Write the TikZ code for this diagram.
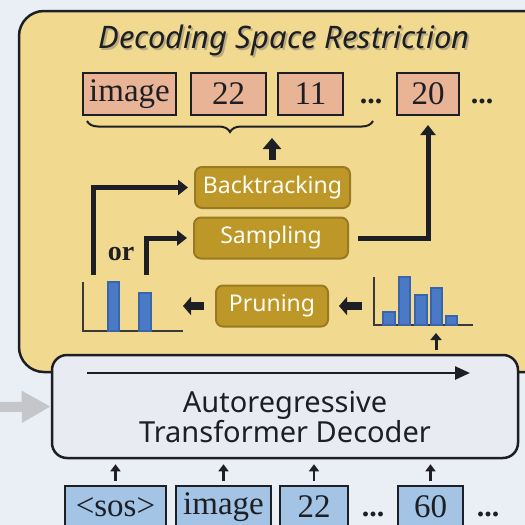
\documentclass[tikz,border=0pt]{standalone}
\usepackage{fontspec}
\setmainfont{Liberation Serif}
\newfontfamily\labelsans{Noto Sans}
\usetikzlibrary{arrows.meta,decorations.pathreplacing}

\definecolor{bgcol}{HTML}{EAEEF5}
\definecolor{panelcol}{HTML}{F1DA90}
\definecolor{goldcol}{HTML}{BD9727}
\definecolor{golddraw}{HTML}{977A22}
\definecolor{salmon}{HTML}{E9B496}
\definecolor{tokblue}{HTML}{A3C4E5}
\definecolor{deccol}{HTML}{E8EBF1}
\definecolor{barcol}{HTML}{4A79C6}
\definecolor{bardraw}{HTML}{3A65AC}
\definecolor{inkcol}{HTML}{1E1F24}
\definecolor{axiscol}{HTML}{3A3A3C}
\definecolor{greyarrow}{HTML}{C4C6CA}

\tikzset{
  tok/.style={draw=inkcol, line width=2pt, minimum height=42pt, inner sep=0pt,
    text=inkcol, font=\fontsize{33}{33}\selectfont},
  redtok/.style={tok, fill=salmon},
  bluetok/.style={tok, fill=tokblue},
  dots/.style={text=inkcol, inner sep=0pt, font=\bfseries\fontsize{30}{30}\selectfont},
  opbox/.style={draw=golddraw, fill=goldcol, line width=2pt, rounded corners=7pt,
    minimum height=41pt, inner sep=0pt, text=white!96!yellow,
    font=\labelsans\fontsize{23}{23}\selectfont},
  flowarrow/.style={draw=inkcol, line width=5pt,
    -{Triangle[length=10pt,width=15pt]}},
  fatarrow/.style={draw=inkcol, line width=8pt,
    -{Triangle[length=8pt,width=18pt]}},
  thinarrow/.style={draw=inkcol, line width=2.5pt,
    -{Triangle[length=7pt,width=10pt]}},
  axis/.style={draw=axiscol, line width=2.5pt},
  bar/.style={fill=barcol, draw=bardraw, line width=1.2pt},
  titlefont/.style={font=\labelsans\itshape\fontsize{31}{31}\selectfont},
}

\begin{document}
\begin{tikzpicture}[x=1pt, y=-1pt]
\useasboundingbox (0,0) rectangle (525,525);
\clip (0,0) rectangle (525,525);
\fill[bgcol] (0,0) rectangle (525,525);

% restriction panel
\draw[fill=panelcol, draw=inkcol, line width=2.5pt, rounded corners=25pt]
  (19,11) rectangle (560,372);

% panel title with soft shadow
\node[titlefont, text=black!60, opacity=0.4] (titleshadow) at (285.8,42.8)
  {Decoding Space Restriction};
\node[titlefont, text=inkcol] (title) at (284,40) {Decoding Space Restriction};

% output tokens
\node[redtok, minimum width=93pt] (oimg) at (129.5,94) {image};
\node[redtok, minimum width=75pt] (o22) at (228.5,94) {22};
\node[redtok, minimum width=65pt] (o11) at (310.5,94) {11};
\node[dots] (odots1) at (371,101) {...};
\node[redtok, minimum width=62pt] (o20) at (428,94) {20};
\node[dots] (odots2) at (482,101) {...};

% brace over the accepted prefix
\coordinate (braceL) at (87,121);
\coordinate (braceR) at (373,121);
\draw[draw=inkcol, line width=2pt,
  decorate, decoration={brace, mirror, amplitude=11pt}] (braceL) -- (braceR);
\coordinate (braceTip) at (272,138);

% operations
\node[opbox, minimum width=155pt] (back) at (272.5,187.5) {Backtracking};
\node[opbox, minimum width=154pt] (samp) at (271,238) {Sampling};
\node[opbox, minimum width=112pt] (prune) at (272,306) {Pruning};

\coordinate (backTop) at (272,160);
\draw[draw=inkcol, line width=7pt, -{Triangle[length=11pt,width=18pt]}]
  (backTop) -- (braceTip);

% pruned distribution (left)
\draw[axis] (83,282) -- (83,331) -- (183,331);
\draw[bar] (108,282) rectangle (119,331);
\draw[bar] (139,293) rectangle (151,331);
\coordinate (lcA) at (93,275);
\coordinate (lcB) at (146,275);
\coordinate (lcEnd) at (183,306);
\node[text=inkcol, font=\bfseries\fontsize{28}{28}\selectfont] (ortext) at (121,254) {or};

\draw[flowarrow, shorten >=6pt] (lcA) |- (back.west);
\draw[flowarrow, shorten >=6pt] (lcB) |- (samp.west);
\draw[flowarrow, shorten <=9pt, shorten >=9pt] (samp.east) -| (o20.south);

% full distribution (right)
\draw[axis] (374,277) -- (374,325) -- (473,325);
\draw[bar] (383,312) rectangle (395,325);
\draw[bar] (399,277) rectangle (410,325);
\draw[bar] (415,295) rectangle (427,325);
\draw[bar] (431,288) rectangle (442,325);
\draw[bar] (446,316) rectangle (457,325);
\coordinate (rcStart) at (362,306);
\coordinate (rcFoot) at (436,333);

\draw[fatarrow, shorten >=10pt] (rcStart) -- (prune.east);
\draw[fatarrow, shorten <=11pt] (prune.west) -- (lcEnd);

% decoder
\node[draw=inkcol, fill=deccol, line width=2.5pt, rounded corners=15pt,
  minimum width=466pt, minimum height=103pt] (dec) at (285,406.5) {};
\node[text=inkcol, align=center, inner sep=0pt,
  font=\labelsans\fontsize{29}{29}\selectfont] (dectext) at (285,417)
  {Autoregressive\\Transformer Decoder};
\coordinate (decArrL) at (87,373);
\coordinate (decArrR) at (470,373);
\draw[draw=inkcol, line width=2.5pt, -{Triangle[length=15pt,width=13pt]}]
  (decArrL) -- (decArrR);

\coordinate (decTop) at (436,350);
\draw[draw=inkcol, line width=3pt, -{Triangle[length=7pt,width=11pt]}]
  (decTop) -- (rcFoot);

% encoder input
\coordinate (encIn) at (0,407);
\draw[draw=greyarrow, line width=10pt, -{Triangle[length=29pt,width=30pt]}]
  (encIn) -- (dec.west);

% input tokens
\node[bluetok, minimum width=101pt] (isos) at (115.5,507) {<sos>};
\node[bluetok, minimum width=95pt] (iimg) at (223.5,507) {image};
\node[bluetok, minimum width=68pt] (i22) at (314,507) {22};
\node[dots] (idots1) at (373,514) {...};
\node[bluetok, minimum width=65pt] (i60) at (430.5,507) {60};
\node[dots] (idots2) at (488,514) {...};

\foreach \t in {isos,iimg,i22,i60}
  \draw[thinarrow, shorten <=4pt, shorten >=5pt] (\t.north) -- (\t.north |- dec.south);
\end{tikzpicture}
\end{document}
